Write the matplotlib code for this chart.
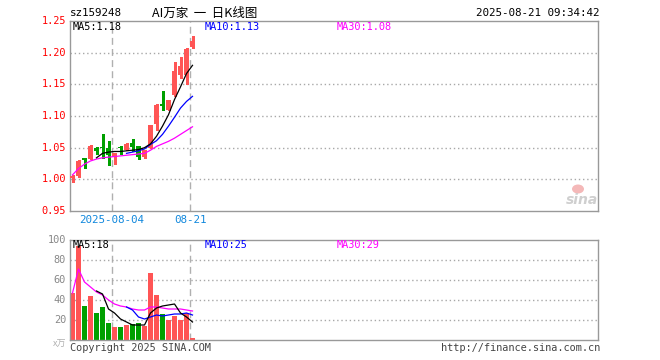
import numpy as np
import matplotlib
matplotlib.use("Agg")
import matplotlib.pyplot as plt
from matplotlib.patches import Ellipse

nan = np.nan

# daily candles
opens  = [1.002, 1.005, 1.032, 1.032, 1.049, 1.050, 1.049, 1.036, 1.050, 1.047, 1.057,
          1.052, 1.036, 1.050, 1.087, 1.117, 1.110, 1.133, 1.165, 1.165, 1.209]
closes = [1.006, 1.029, 1.031, 1.053, 1.044, 1.049, 1.039, 1.042, 1.049, 1.056, 1.051,
          1.035, 1.046, 1.085, 1.118, 1.116, 1.125, 1.171, 1.179, 1.206, 1.218]
highs  = [1.007, 1.031, 1.032, 1.054, 1.051, 1.071, 1.061, 1.042, 1.052, 1.057, 1.063,
          1.052, 1.046, 1.085, 1.119, 1.140, 1.126, 1.185, 1.193, 1.207, 1.227]
lows   = [0.995, 1.003, 1.018, 1.032, 1.040, 1.034, 1.022, 1.024, 1.040, 1.047, 1.045,
          1.032, 1.034, 1.050, 1.078, 1.110, 1.110, 1.131, 1.160, 1.150, 1.207]

ma5  = [nan] * 4 + [1.034, 1.041, 1.043, 1.044, 1.044, 1.045, 1.046, 1.047, 1.050,
                    1.056, 1.068, 1.084, 1.102, 1.126, 1.146, 1.167, 1.180]
ma10 = [nan] * 9 + [1.041, 1.043, 1.045, 1.048, 1.055, 1.061, 1.071, 1.084, 1.098,
                    1.1125, 1.123, 1.131]
ma30 = [1.007, 1.017, 1.024, 1.029, 1.032, 1.034, 1.035, 1.036, 1.037, 1.038, 1.039,
        1.040, 1.041, 1.046, 1.052, 1.056, 1.060, 1.065, 1.071, 1.077, 1.083]

volumes = [47, 94, 34, 44, 27, 33, 17, 13, 13, 15, 16, 17, 14, 67, 45, 26, 20, 24, 20, 27, 2]
vol_ma5  = [nan] * 4 + [49, 46, 31, 27, 21, 18, 15, 15, 15, 27, 32, 34, 35, 36, 27, 23, 18]
vol_ma10 = [nan] * 9 + [33, 30, 23, 21, 23, 25, 24, 25, 26, 26, 27, 25]
vol_ma30 = [47, 71, 58, 53, 48, 45, 40, 36, 34, 33, 31, 30, 30, 33, 33, 32, 31, 31, 31, 30, 29]

price_ticks = [0.95, 1.00, 1.05, 1.10, 1.15, 1.20, 1.25]
vol_ticks = [20, 40, 60, 80, 100]
date_marks = {7: "2025-08-04", 20: "08-21"}

RED = "#ff5555"
GREEN = "#00a000"
GRID = "#a8a8a8"
MONO = "DejaVu Sans Mono"

W, H = 660, 360
fig = plt.figure(figsize=(W / 100, H / 100), dpi=100)


def fx(x):
    return x / W


def fy(y):
    return 1 - y / H


# pixel boxes of the two panels
ax1 = fig.add_axes([fx(70), fy(211), (598 - 70) / W, (211 - 21) / H])
ax2 = fig.add_axes([fx(70), fy(340), (598 - 70) / W, (340 - 240) / H])

n = len(closes)
xs = np.arange(n)
bw = 5 / 6
centers = xs + bw / 2
colors = [RED if c >= o else GREEN for o, c in zip(opens, closes)]

for ax in (ax1, ax2):
    ax.set_xlim(0, 88)
    for s in ax.spines.values():
        s.set_color("#999999")
        s.set_linewidth(1)
    ax.set_xticks([])
    ax.set_yticks([])
    for xm in date_marks:
        ax.axvline(xm, color="#b0b0b0", lw=1, linestyle=(0, (5, 3)), zorder=0)

# price panel
ax1.set_ylim(0.95, 1.25)
for p in price_ticks[1:-1]:
    ax1.axhline(p, color=GRID, lw=1, linestyle=(0, (1, 2)), zorder=0)

ax1.vlines(centers, lows, highs, colors=colors, lw=1, antialiased=False, zorder=2)
bottoms = [min(o, c) for o, c in zip(opens, closes)]
heights = [max(abs(c - o), 0.0025) for o, c in zip(opens, closes)]
ax1.bar(xs, heights, bottom=bottoms, width=bw, align="edge", color=colors,
        linewidth=0, antialiased=False, zorder=3)

ax1.plot(centers, ma30, color="#ff00ff", lw=0.9, zorder=4)
ax1.plot(centers, ma10, color="#0000ff", lw=0.9, zorder=4)
ax1.plot(centers, ma5, color="black", lw=0.9, zorder=4)

# volume panel
ax2.set_ylim(0, 100)
for v in vol_ticks[:-1]:
    ax2.axhline(v, color=GRID, lw=1, linestyle=(0, (1, 2)), zorder=0)
ax2.bar(xs, volumes, width=bw, align="edge", color=colors, linewidth=0,
        antialiased=False, zorder=2)
ax2.plot(centers, vol_ma30, color="#ff00ff", lw=0.9, zorder=4)
ax2.plot(centers, vol_ma10, color="#0000ff", lw=0.9, zorder=4)
ax2.plot(centers, vol_ma5, color="black", lw=0.9, zorder=4)

# texts
fs = 7.4
fig.text(fx(70), fy(13), "sz159248", family=MONO, fontsize=fs + 0.4, va="center")
fig.text(fx(152), fy(13), "AI万家  一  日K线图", family=["Noto Sans CJK SC", "DejaVu Sans"],
         fontsize=9, va="center")
fig.text(fx(600), fy(13), "2025-08-21 09:34:42", family=MONO, fontsize=fs + 0.4,
         va="center", ha="right")

for p in price_ticks:
    y = 211 - (p - 0.95) / 0.30 * 190
    fig.text(fx(66), fy(y), f"{p:.2f}", family=MONO, fontsize=fs, color="#ff0000",
             ha="right", va="center")

for v in vol_ticks:
    y = 340 - v
    fig.text(fx(66), fy(y), str(v), family=MONO, fontsize=fs, color="#888888",
             ha="right", va="center")
fig.text(fx(66), fy(344), "x万", family=["Noto Sans CJK SC", "DejaVu Sans"], fontsize=6.5,
         color="#b0b0b0", ha="right", va="center")

for xm, lab in date_marks.items():
    fig.text(fx(70 + xm * 6), fy(220), lab, family=MONO, fontsize=fs + 0.4,
             color="#1188dd", ha="center", va="center")

fig.text(fx(73), fy(27), "MA5:1.18", family=MONO, fontsize=fs, color="black", va="center")
fig.text(fx(205), fy(27), "MA10:1.13", family=MONO, fontsize=fs, color="#0000ff", va="center")
fig.text(fx(337), fy(27), "MA30:1.08", family=MONO, fontsize=fs, color="#ff00ff", va="center")

fig.text(fx(73), fy(245), "MA5:18", family=MONO, fontsize=fs, color="black", va="center")
fig.text(fx(205), fy(245), "MA10:25", family=MONO, fontsize=fs, color="#0000ff", va="center")
fig.text(fx(337), fy(245), "MA30:29", family=MONO, fontsize=fs, color="#ff00ff", va="center")

fig.text(fx(70), fy(348), "Copyright 2025 SINA.COM", family=MONO, fontsize=fs,
         color="#444444", va="center")
fig.text(fx(600), fy(348), "http://finance.sina.com.cn", family=MONO, fontsize=fs,
         color="#444444", va="center", ha="right")

# sina watermark
fig.text(fx(582), fy(200), "sina", fontsize=10, style="italic", weight="bold",
         color="#cfcfcf", ha="center", va="center")
fig.add_artist(Ellipse((fx(578), fy(189)), 12 / W, 9 / H, transform=fig.transFigure,
                       facecolor="#f4b8b8", edgecolor="none"))

fig.savefig("out.png", dpi=100)
